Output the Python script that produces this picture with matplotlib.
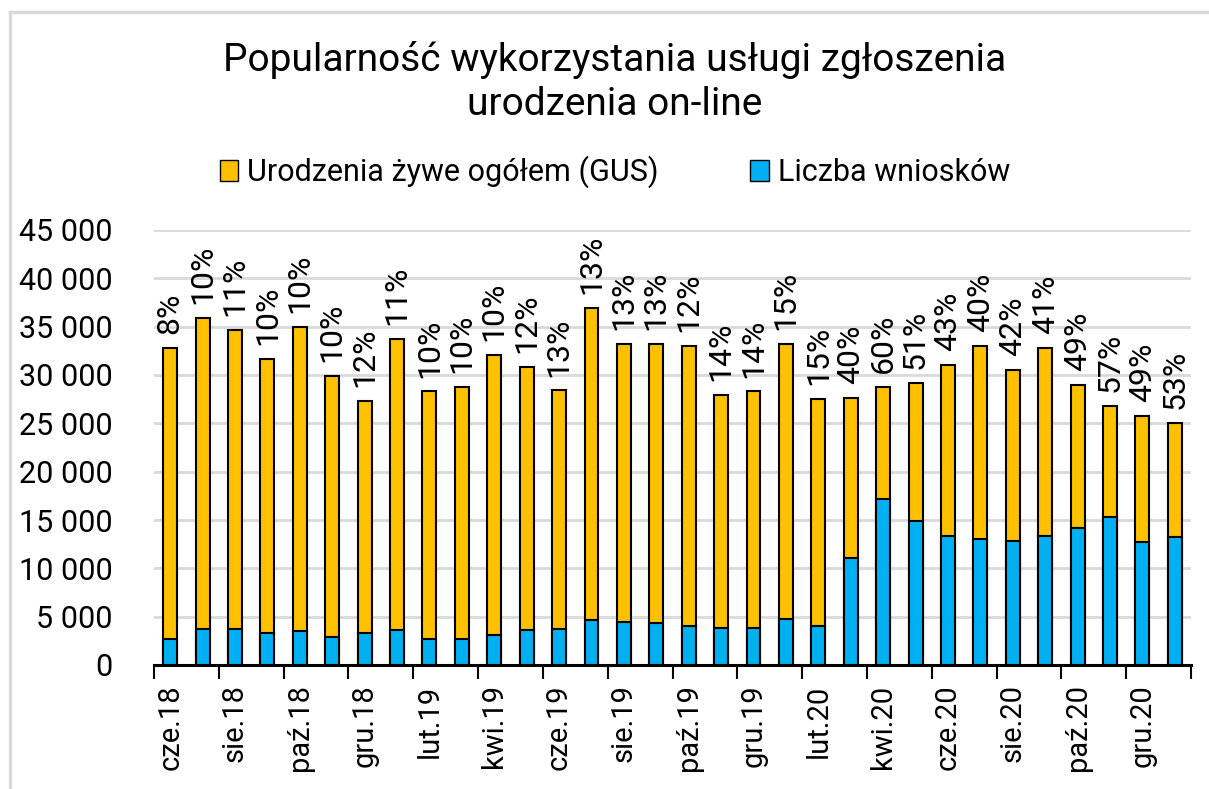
import matplotlib
matplotlib.use("Agg")
import matplotlib.pyplot as plt
from matplotlib.patches import Patch
from matplotlib.lines import Line2D
import numpy as np

plt.rcParams["font.family"] = ["Roboto", "DejaVu Sans"]

month_names = ["cze", "lip", "sie", "wrz", "paź", "lis", "gru",
               "sty", "lut", "mar", "kwi", "maj"]
years = ["18"] * 7 + ["19"] * 12 + ["20"] * 12 + ["21"]
months = [month_names[i % 12] + "." + years[i] for i in range(32)]

births = [32800, 35900, 34700, 31700, 35000, 29900, 27300, 33700,
          28300, 28800, 32100, 30800, 28400, 36900, 33200, 33200,
          33000, 27900, 28300, 33200, 27500, 27600, 28800, 29200,
          31000, 33000, 30500, 32800, 29000, 26800, 25800, 25000]
applications = [2700, 3700, 3700, 3300, 3500, 2900, 3300, 3600,
                2700, 2700, 3100, 3600, 3700, 4700, 4400, 4300,
                4000, 3800, 3800, 4800, 4000, 11100, 17200, 14900,
                13300, 13000, 12800, 13300, 14200, 15300, 12700, 13200]
share_pct = [8, 10, 11, 10, 10, 10, 12, 11, 10, 10, 10, 12, 13, 13, 13, 13,
             12, 14, 14, 15, 15, 40, 60, 51, 43, 40, 42, 41, 49, 57, 49, 53]

yellow = "#FFC000"
blue = "#00B0F0"

W, H = 1209, 789
fig = plt.figure(figsize=(W / 100, H / 100), dpi=100)

# light grey chart frame (left + top only visible)
fig.add_artist(Line2D([10 / W, 10 / W], [0, 1 - 12 / H], color="#d9d9d9", lw=2.5))
fig.add_artist(Line2D([10 / W, 1], [1 - 12 / H, 1 - 12 / H], color="#d9d9d9", lw=2.5))

ax = fig.add_axes([154 / W, 1 - 665 / H, 1037 / W, (665 - 230) / H])

x = np.arange(len(months))
bw = 0.43
ax.bar(x, births, width=bw, color=yellow, edgecolor="black", linewidth=1.5, zorder=2)
ax.bar(x, applications, width=bw, color=blue, edgecolor="black", linewidth=1.5, zorder=3)

for xi, top, p in zip(x, births, share_pct):
    ax.annotate(f"{p}%", (xi, top), xytext=(0, 10), textcoords="offset points",
                rotation=90, ha="center", va="bottom", fontsize=23)

ax.set_xlim(-0.5, len(months) - 0.5)
ax.set_ylim(0, 45000)
ax.set_yticks(np.arange(0, 45001, 5000))
ax.set_yticklabels([f"{v:,}".replace(",", " ") for v in range(0, 45001, 5000)], fontsize=22)
ax.yaxis.grid(True, color="#d9d9d9", lw=2, zorder=0)
ax.set_axisbelow(True)

ax.set_xticks(x[::2])
ax.set_xticklabels(months[::2], rotation=90, fontsize=21)
ax.set_xticks(np.arange(-0.5, len(months), 2), minor=True)
ax.tick_params(axis="x", which="major", length=0, pad=14)
ax.tick_params(axis="x", which="minor", length=10, width=1.5, color="black")
ax.tick_params(axis="y", length=0, pad=30)

for s in ["left", "right", "top"]:
    ax.spines[s].set_visible(False)
ax.spines["bottom"].set_linewidth(2.2)

fig.text(615 / W, 1 - 82 / H, "Popularność wykorzystania usługi zgłoszenia\nurodzenia on-line",
         ha="center", va="center", fontsize=28, linespacing=1.25)

handles = [Patch(facecolor=yellow, edgecolor="black", label="Urodzenia żywe ogółem (GUS)"),
           Patch(facecolor=blue, edgecolor="black", label="Liczba wniosków")]
fig.legend(handles=handles, loc="center", bbox_to_anchor=(615 / W, 1 - 172 / H), ncol=2,
           frameon=False, fontsize=22, handlelength=0.6, handleheight=0.7,
           handletextpad=0.3, columnspacing=3)

fig.savefig("out.png", dpi=100)
